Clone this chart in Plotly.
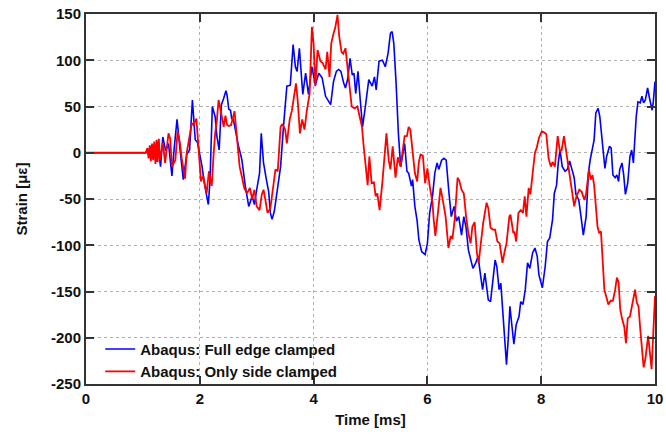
import plotly.graph_objects as go

# ---- data ----
t_full = [0, 1.05, 1.08, 1.11, 1.14, 1.17, 1.20, 1.23, 1.26, 1.29, 1.31, 1.35, 1.40, 1.45, 1.51, 1.55, 1.60, 1.65, 1.71, 1.77,
          1.82, 1.87, 1.92, 1.96, 2.01, 2.04, 2.08, 2.15, 2.18, 2.22, 2.27, 2.30, 2.34, 2.38, 2.42, 2.46, 2.48, 2.51, 2.54, 2.56,
          2.59, 2.65, 2.68, 2.71, 2.74, 2.80, 2.86, 2.92, 2.96, 3.00, 3.05, 3.08, 3.12, 3.17, 3.21, 3.24, 3.27, 3.31, 3.36, 3.42,
          3.47, 3.53, 3.59, 3.64, 3.68, 3.71, 3.75, 3.79, 3.81, 3.86, 3.91, 3.97, 4.03, 4.09, 4.15, 4.21, 4.27, 4.30, 4.35, 4.40,
          4.44, 4.48, 4.53, 4.56, 4.60, 4.64, 4.68, 4.71, 4.74, 4.78, 4.82, 4.86, 4.91, 4.97, 5.03, 5.07, 5.10, 5.15, 5.21, 5.26,
          5.31, 5.35, 5.38, 5.41, 5.45, 5.49, 5.53, 5.57, 5.60, 5.64, 5.67, 5.72, 5.74, 5.78, 5.82, 5.85, 5.90, 5.96, 6.00, 6.04,
          6.09, 6.13, 6.17, 6.20, 6.25, 6.29, 6.33, 6.38, 6.42, 6.47, 6.51, 6.55, 6.60, 6.64, 6.68, 6.72, 6.76, 6.80, 6.85, 6.89,
          6.94, 6.97, 7.01, 7.04, 7.07, 7.11, 7.15, 7.19, 7.22, 7.26, 7.29, 7.33, 7.36, 7.39, 7.42, 7.45, 7.48, 7.52, 7.56, 7.61,
          7.64, 7.68, 7.72, 7.76, 7.80, 7.85, 7.89, 7.93, 7.96, 8.02, 8.07, 8.11, 8.15, 8.20, 8.23, 8.27, 8.30, 8.33, 8.37, 8.42,
          8.46, 8.50, 8.54, 8.58, 8.61, 8.66, 8.70, 8.74, 8.79, 8.83, 8.86, 8.89, 8.93, 8.96, 9.00, 9.03, 9.07, 9.12, 9.15, 9.20,
          9.23, 9.26, 9.30, 9.33, 9.36, 9.38, 9.42, 9.45, 9.48, 9.52, 9.56, 9.59, 9.62, 9.65, 9.67, 9.70, 9.74, 9.77, 9.80, 9.83,
          9.87, 9.91, 9.95, 9.97, 10.0]
strain_full = [0, 0, 3, -5, 7, -6, 9, -10, 12, -8, -15, 17, 2, 10, -25, 5, 36, 5, -29, -2,
               3, 57, 14, 11, -4, -15, -33, -56, -29, 50, 39, 18, 3, 52, 59, 67, 62, 47, 46, 37,
               36, 14, 7, 0, -8, -36, -58, -47, -56, -40, -22, 21, -11, -29, -42, -65, -72, -63, -42, -15,
               28, 72, 73, 117, 93, 88, 113, 82, 63, 86, 63, 93, 73, 86, 81, 61, 54, 52, 77, 88,
               90, 88, 75, 70, 80, 102, 84, 86, 64, 88, 57, 28, 50, 79, 72, 82, 68, 99, 100, 93,
               108, 129, 131, 118, 75, 21, -15, 0, 10, -20, -22, -36, -29, -58, -74, -94, -107, -110, -98, -65,
               -47, -22, -11, -18, -8, -6, -8, -44, -69, -58, -74, -69, -89, -69, -81, -105, -114, -125, -119, -112,
               -135, -148, -130, -144, -159, -161, -137, -116, -123, -148, -141, -177, -209, -229, -202, -166, -184, -207, -186, -177,
               -161, -164, -148, -119, -125, -108, -103, -112, -132, -146, -123, -96, -92, -72, -44, -35, -11, 3, -15, -20,
               -18, -9, -18, -27, -45, -51, -69, -89, -69, -22, -8, 3, 14, 43, 48, 39, 14, -17, -4, 7,
               5, -24, -27, -24, -31, -18, -11, -24, -45, -33, -4, 3, -11, 18, 39, 55, 54, 61, 54, 57,
               70, 57, 46, 55, 77]

t_side = [0, 1.05, 1.08, 1.10, 1.12, 1.14, 1.16, 1.18, 1.20, 1.22, 1.24, 1.26, 1.28, 1.30, 1.35, 1.39, 1.45, 1.48, 1.51, 1.57,
          1.61, 1.65, 1.68, 1.74, 1.77, 1.80, 1.86, 1.89, 1.94, 1.98, 2.02, 2.06, 2.12, 2.16, 2.21, 2.24, 2.27, 2.30, 2.33, 2.37,
          2.42, 2.45, 2.48, 2.51, 2.55, 2.61, 2.65, 2.70, 2.74, 2.78, 2.83, 2.88, 2.92, 2.96, 3.00, 3.05, 3.09, 3.12, 3.15, 3.19,
          3.24, 3.30, 3.33, 3.37, 3.42, 3.45, 3.50, 3.53, 3.58, 3.62, 3.65, 3.69, 3.72, 3.76, 3.80, 3.84, 3.88, 3.93, 3.97, 4.00,
          4.03, 4.07, 4.12, 4.16, 4.21, 4.24, 4.28, 4.31, 4.35, 4.38, 4.42, 4.45, 4.49, 4.52, 4.56, 4.60, 4.63, 4.67, 4.72, 4.77,
          4.81, 4.85, 4.88, 4.91, 4.95, 4.98, 5.02, 5.06, 5.09, 5.12, 5.16, 5.21, 5.24, 5.28, 5.32, 5.35, 5.39, 5.44, 5.48, 5.53,
          5.56, 5.60, 5.64, 5.67, 5.70, 5.74, 5.78, 5.82, 5.85, 5.88, 5.92, 5.96, 6.00, 6.04, 6.09, 6.11, 6.14, 6.19, 6.23, 6.27,
          6.32, 6.37, 6.41, 6.44, 6.48, 6.53, 6.56, 6.60, 6.64, 6.68, 6.72, 6.76, 6.79, 6.83, 6.87, 6.90, 6.94, 6.98, 7.04, 7.07,
          7.11, 7.15, 7.19, 7.23, 7.27, 7.32, 7.36, 7.39, 7.44, 7.46, 7.51, 7.53, 7.56, 7.60, 7.64, 7.68, 7.71, 7.74, 7.78, 7.81,
          7.85, 7.89, 7.92, 7.96, 8.01, 8.05, 8.09, 8.13, 8.17, 8.20, 8.24, 8.29, 8.33, 8.36, 8.40, 8.43, 8.46, 8.50, 8.54, 8.58,
          8.62, 8.67, 8.71, 8.76, 8.79, 8.84, 8.87, 8.90, 8.93, 8.96, 8.99, 9.02, 9.05, 9.08, 9.11, 9.15, 9.18, 9.22, 9.26, 9.30,
          9.33, 9.36, 9.39, 9.42, 9.46, 9.49, 9.52, 9.56, 9.59, 9.62, 9.65, 9.68, 9.71, 9.74, 9.77, 9.80, 9.83, 9.86, 9.88, 9.91,
          9.94, 9.97, 10.0]
strain_side = [0, 0, 5, -6, 8, -9, 10, -8, 12, -12, 14, -10, 15, -8, 11, -11, 21, 15, -15, -8,
               23, 11, -5, -28, 0, 11, 32, 30, 37, 3, -31, -25, -44, -20, -36, -4, 21, 35, 57, 45,
               28, 40, 30, 29, 30, 45, 14, -15, -26, -38, -44, -38, -50, -40, -58, -62, -45, -40, -50, -65,
               -60, -29, -18, -20, 28, 31, 25, 10, 36, 46, 57, 75, 57, 21, 36, 25, 45, 64, 136, 118,
               72, 111, 99, 97, 90, 109, 82, 118, 129, 135, 149, 126, 109, 107, 113, 90, 73, 50, 48, 50,
               39, 28, 7, -10, -35, -4, -33, -32, -47, -44, -62, -31, -4, 21, -8, -18, 7, -27, -5, -15,
               0, 18, 18, 28, 25, 0, -22, -31, -10, -2, -3, -33, -17, -36, -54, -72, -90, -62, -38, -51,
               -69, -103, -90, -93, -72, -27, -30, -40, -44, -69, -87, -98, -80, -75, -108, -119, -98, -76, -54, -60,
               -81, -83, -83, -96, -98, -119, -106, -98, -69, -67, -87, -85, -96, -65, -62, -65, -47, -69, -38, -45,
               -22, 0, 5, 16, 23, 22, 20, -6, -15, -10, -15, 18, 1, 3, 18, 5, -8, -25, -42, -58,
               -47, -40, -42, -51, -44, -18, -29, -24, -35, -58, -80, -87, -85, -116, -148, -157, -164, -160, -160, -148,
               -135, -140, -170, -179, -188, -206, -179, -177, -168, -155, -148, -162, -166, -190, -213, -232, -223, -208, -198, -216,
               -234, -195, -155]

x_ticks = [0, 2, 4, 6, 8, 10]
y_ticks = [150, 100, 50, 0, -50, -100, -150, -200, -250]
y_tick_labels = ["150", "100", "50", "0", "-50", "-100", "-150", "-200", "-250"]

FONT = "Liberation Sans, Arial, sans-serif"
TXT = "#111111"

fig = go.Figure()
fig.add_trace(go.Scatter(x=t_full, y=strain_full, mode="lines",
                         name="Abaqus: Full edge clamped",
                         line=dict(color="#0000ff", width=1.6)))
fig.add_trace(go.Scatter(x=t_side, y=strain_side, mode="lines",
                         name="Abaqus: Only side clamped",
                         line=dict(color="#ff0000", width=1.8)))

axis_common = dict(
    showline=True, linecolor="#333333", linewidth=2, mirror="ticks",
    ticks="inside", ticklen=8, tickwidth=2, tickcolor="#333333",
    showgrid=True, gridcolor="#b0b0b0", griddash="dot", gridwidth=1,
    zeroline=False, automargin=False,
    tickfont=dict(family=FONT, size=15, color=TXT, weight="bold"),
)

fig.update_xaxes(range=[0, 10], tickvals=x_ticks,
                 title=dict(text="Time [ms]", standoff=8,
                            font=dict(family=FONT, size=15, color=TXT, weight="bold")),
                 **axis_common)
fig.update_yaxes(range=[-250, 150], tickvals=y_ticks, ticktext=y_tick_labels,
                 title=dict(text="Strain [\u03bc\u03b5]", standoff=20,
                            font=dict(family=FONT, size=15, color=TXT, weight="bold")),
                 **axis_common)

fig.update_layout(
    width=666, height=434,
    margin=dict(l=86, r=11, t=14, b=50),
    paper_bgcolor="white", plot_bgcolor="white",
    font=dict(family=FONT, size=15, color=TXT),
    showlegend=True,
    legend=dict(x=0.025, y=-0.01, xanchor="left", yanchor="bottom",
                bgcolor="rgba(255,255,255,0)", borderwidth=0,
                font=dict(family=FONT, size=15, color=TXT, weight="bold"),
                tracegroupgap=0, itemwidth=30),
)

fig.write_html("out.html")
